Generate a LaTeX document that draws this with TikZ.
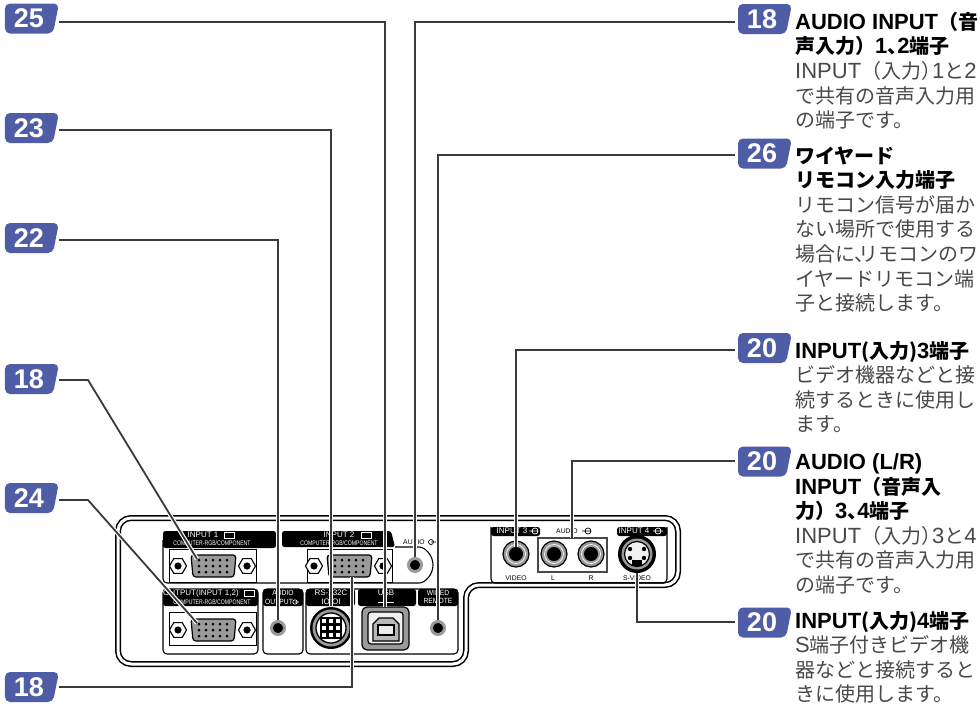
\documentclass[tikz,border=0pt]{standalone}
\usepackage{fontspec}
\usepackage{xcolor}
\usepackage{tikz}
\usetikzlibrary{calc, positioning, shapes.geometric}
\setmainfont{Noto Sans CJK JP}
\newfontfamily\panelfont{Liberation Sans}
\newfontfamily\numfont{Liberation Sans}
\definecolor{badgeblue}{HTML}{4F5CA6}
\definecolor{leadgray}{HTML}{3A3A3A}
\definecolor{bodygray}{HTML}{484848}
\definecolor{portgray}{HTML}{9A9A9A}
\newcommand{\hd}[1]{\textcolor{black}{\bfseries #1}}
\newcommand{\lat}[1]{{\numfont\fontsize{22}{24.6}\selectfont #1}}
\newcommand{\ten}{、\hspace{-0.5em}}
\newcommand{\tojiru}{）\hspace{-0.45em}}
\tikzset{
    badge/.style={trapezium, trapezium left angle=79, trapezium right angle=90, shape border rotate=180, trapezium stretches=true, rounded corners=5pt, fill=badgeblue, text=white, inner sep=0, minimum width=54pt, minimum height=30pt, font=\numfont\fontsize{27}{27}\selectfont\bfseries},
    lead/.style={draw=leadgray, line width=1.8pt, preaction={draw=white, line width=4.2pt}},
    termtext/.style={align=left, inner sep=0, text=bodygray, font=\fontsize{20}{24.6}\selectfont},
    tab/.style={fill=black, rounded corners=2.5pt},
    group/.style={draw=black, line width=1.1pt, rounded corners=4pt},
    tabtext/.style={text=white, inner sep=0, font=\panelfont\fontsize{8}{8}\selectfont},
    tabmid/.style={text=white, inner sep=0, xscale=0.9, font=\panelfont\fontsize{7.5}{7.5}\selectfont},
    tabsmall/.style={text=white, inner sep=0, xscale=0.78, font=\panelfont\fontsize{6.6}{6.6}\selectfont},
    panellabel/.style={text=black, inner sep=0, font=\panelfont\fontsize{6.8}{6.8}\selectfont},
    jackhole/.style={circle, fill=black, draw=portgray, line width=3pt, inner sep=0, minimum size=13pt},
    rcahole/.style={circle, fill=black, inner sep=0, minimum size=14pt},
    nut/.style={regular polygon, regular polygon sides=6, draw=black, fill=white, line width=1.1pt, inner sep=0, minimum size=17pt},
    vgaport/.pic={
        \node[nut] (-nutl) at (-35,0) {};
        \node[nut] (-nutr) at (34,0) {};
        \fill (-35,0) circle (3.6);
        \fill (34,0) circle (3.6);
        \draw[fill=portgray, line width=1.2pt, rounded corners=3pt] (-22,-11) -- (23,-11) -- (21,11) -- (-20,11) -- cycle;
        \foreach \c in {-14,-7,0,7,14} \fill (\c,-6) circle (1.5) (\c,0) circle (1.5) (\c,6) circle (1.5);
        \coordinate (-pin) at (-16,-7);
    }
}

\begin{document}
\begin{tikzpicture}[x=1pt, y=-1pt]
    \useasboundingbox (0,0) rectangle (980,704);

    % outer casing
    \draw[double, double distance=3pt, line width=1.5pt, rounded corners=13pt] (118,518) -- (678,518) -- (678,585) -- (466,585) -- (466,664) -- (118,664) -- cycle;

    % input 1, input 2, audio
    \draw[group] (395,547) -- (415,547) arc (-90:90:18) -- (163,583) -- (163,540);
    \fill[tab] (163,531) rectangle (276,548);
    \fill[tab] (282,531) -- (391,531) -- (395,547) -- (282,547) -- cycle;
    \node[tabtext] (tin1) at (203,535) {INPUT 1};
    \node[tabsmall] (tcomp1) at (212,543) {COMPUTER-RGB/COMPONENT};
    \node[tabtext] (tin2) at (339,535) {INPUT 2};
    \node[tabsmall] (tcomp2) at (339,543) {COMPUTER-RGB/COMPONENT};
    \node[panellabel] (taudio) at (414,542) {AUDIO};
    \draw[line width=0.7pt] (169,549) rectangle (256,582);
    \draw[line width=0.7pt] (307,549) rectangle (392,582);
    \pic (vgaone) at (213,566) {vgaport};
    \pic (vgatwo) at (349,566) {vgaport};
    \node[jackhole] (jaudio) at (415,565) {};

    % output
    \draw[group] (163,589) rectangle (258,654);
    \fill[tab] (163,589) rectangle (258,606);
    \node[tabtext] (tout) at (201,593) {OUTPUT(INPUT 1,2)};
    \node[tabsmall] (tcomp3) at (212,602) {COMPUTER-RGB/COMPONENT};
    \draw[line width=0.7pt] (169,612) rectangle (256,645);
    \pic (vgaout) at (213,630) {vgaport};

    % audio output
    \draw[group] (263,589) rectangle (303,654);
    \fill[tab] (263,589) rectangle (303,606);
    \node[tabmid] (taudo) at (283,593) {AUDIO};
    \node[tabmid] (tauout) at (279,602) {OUTPUT};
    \node[jackhole] (jout) at (278,628) {};

    % rs-232c, usb, wired remote
    \draw[group] (306,589) rectangle (458,654);
    \fill[tab] (306,589) rectangle (355,606);
    \fill[tab] (358,589) rectangle (416,606);
    \fill[tab] (418,589) rectangle (458,606);
    \node[tabtext] (trs) at (331,593) {RS-232C};
    \node[tabtext] (tio) at (331,602) {IOIOI};
    \node[tabtext] (tusb) at (386,593) {USB};
    \node[tabmid] (twired) at (438,593) {WIRED};
    \node[tabmid] (tremote) at (438,601) {REMOTE};
    \node[jackhole] (jwired) at (438,628) {};

    % mini din
    \fill (331,628) circle (21);
    \fill[portgray] (331,628) circle (18.5);
    \draw[line width=1.3pt, fill=white] (331,628) circle (15);
    \foreach \a in {-1,0,1} \foreach \b in {-1,0,1} \draw[fill=white, line width=1.2pt] ({331+7*\a-3},{628+7*\b-3}) rectangle +(6,6);
    \node[inner sep=0, minimum size=1pt] (din) at (331,607) {};

    % usb socket
    \draw[fill=portgray, line width=1.2pt, rounded corners=5pt] (362,607) rectangle (409,650);
    \draw[fill=white!85!portgray, line width=1.2pt, rounded corners=3pt] (368,612) rectangle (403,644);
    \draw[fill=portgray!70, line width=1.2pt] (373,624) -- (379,618) -- (393,618) -- (399,624) -- (399,641) -- (373,641) -- cycle;
    \draw[fill=white!80!portgray, line width=1.2pt] (378,625) rectangle (394,635);
    \node[inner sep=0, minimum size=1pt] (usb) at (385,608) {};

    % right block
    \draw[group] (491,527) -- (491,583) -- (667,583) -- (667,527);
    \fill[tab] (491,527) rectangle (540,536);
    \fill[tab] (617,527) rectangle (667,536);
    \node[tabtext] (tin3) at (512,531) {INPUT 3};
    \node[tabtext] (tin4) at (634,531) {INPUT 4};
    \node[panellabel] (taudioin) at (567,531) {AUDIO};
    \draw[draw=bodygray, line width=2pt] (538,538) rectangle (607,572);
    \foreach \n/\x in {video/516, left/554, right/591} {
        \draw[draw=black, fill=portgray, line width=1.2pt] (\x,554) circle (13);
        \draw[white, line width=0.7pt] (\x,554) circle (9.5);
        \node[rcahole] (j\n) at (\x,554) {};
    }
    \node[panellabel] (lvideo) at (516,578) {VIDEO};
    \node[panellabel] (lleft) at (553,578) {L};
    \node[panellabel] (lright) at (591,578) {R};
    \node[panellabel] (lsvideo) at (637,578) {S-VIDEO};
    \node[circle, fill=black, inner sep=0, minimum size=38pt] (jsvideo) at (637,554) {};
    \fill[portgray] (637,554) circle (15.5);
    \draw[fill=white!85!portgray, line width=1.2pt] (637,554) circle (12.5);
    \foreach \x/\y in {630/549, 644/549, 630/558, 644/558} \fill (\x,\y) circle (2.2);
    \fill (632,560) rectangle (642,566);

    % small icons
    \foreach \x/\y in {229/535, 366/535, 249/593} \draw[white, line width=0.7pt] (\x-5,\y-3) rectangle +(10,6);
    \draw[line width=0.7pt] (431,542) circle (2.5) -- +(6,0);
    \draw[line width=0.7pt] (588,531) circle (3) (582,531) -- (591,531);
    \draw[white, line width=0.7pt] (535,531) circle (3) (529,531) -- (538,531);
    \draw[white, line width=0.7pt] (658,531) circle (3) (653,531) -- (663,531);
    \draw[white, line width=0.6pt] (295,602) circle (2.2) -- +(4,0);
    \draw[white, line width=0.7pt] (378,602) -- (394,602);

    % left badges
    \node[badge] (bl25) at (29,18.5) {25};
    \node[badge] (bl23) at (29,128) {23};
    \node[badge] (bl22) at (29,238) {22};
    \node[badge] (bl18a) at (29,379) {18};
    \node[badge] (bl24) at (29,498) {24};
    \node[badge] (bl18b) at (29,687) {18};

    % right badges
    \node[badge] (br18) at (762,19) {18};
    \node[badge] (br26) at (762,153.5) {26};
    \node[badge] (br20a) at (762,348) {20};
    \node[badge] (br20b) at (762,461.5) {20};
    \node[badge] (br20c) at (762,622.5) {20};

    % left leads
    \draw[lead] ($(bl25.east) + (3,3.5)$) -| (usb);
    \draw[lead] ($(bl23.east) + (3,2)$) -| (din);
    \draw[lead] ($(bl22.east) + (3,2)$) -| (jout);
    \draw[lead] ($(bl18a.east) + (3,1)$) -- (88,380) -- (vgaone-pin);
    \draw[lead] ($(bl24.east) + (3,2)$) -- (88,500) -- (vgaout-pin);
    \draw[lead] ($(bl18b.east) + (3,0)$) -| (352,577);

    % right leads
    \draw[lead] ($(br18.west) - (3,-3)$) -| (jaudio);
    \draw[lead] ($(br26.west) - (3,-1.5)$) -| (jwired);
    \draw[lead] ($(br20a.west) - (3,-2)$) -| (jvideo);
    \draw[lead] ($(br20b.west) - (3,0.5)$) -| (572,538);
    \draw[lead] ($(br20c.west) - (3,0.5)$) -| (jsvideo.south);

    % texts
    \node[termtext, below right=8pt and 33pt of br18.north] (t18) {\hd{\lat{AUDIO INPUT}（音}\\\hd{声入力）\lat{1}\ten\lat{2}端子}\\\lat{INPUT}（入力\tojiru\lat{1}と\lat{2}\\で共有の音声入力用\\の端子です。};
    \node[termtext, below right=8pt and 33pt of br26.north] (t26) {\hd{ワイヤード}\\\hd{リモコン入力端子}\\リモコン信号が届か\\ない場所で使用する\\場合に\ten\hspace{-0.3em}リモコンのワ\\イヤードリモコン端\\子と接続します。};
    \node[termtext, below right=8pt and 33pt of br20a.north] (t20a) {\hd{\lat{INPUT}(入力)\lat{3}端子}\\ビデオ機器などと接\\続するときに使用し\\ます。};
    \node[termtext, below right=7pt and 33pt of br20b.north] (t20b) {\hd{\lat{AUDIO (L/R)}}\\\hd{\lat{INPUT}（音声入}\\\hd{力）\lat{3}\ten\lat{4}端子}\\\lat{INPUT}（入力\tojiru\lat{3}と\lat{4}\\で共有の音声入力用\\の端子です。};
    \node[termtext, below right=3.5pt and 33pt of br20c.north] (t20c) {\hd{\lat{INPUT}(入力)\lat{4}端子}\\\lat{S}端子付きビデオ機\\器などと接続すると\\きに使用します。};
\end{tikzpicture}
\end{document}
